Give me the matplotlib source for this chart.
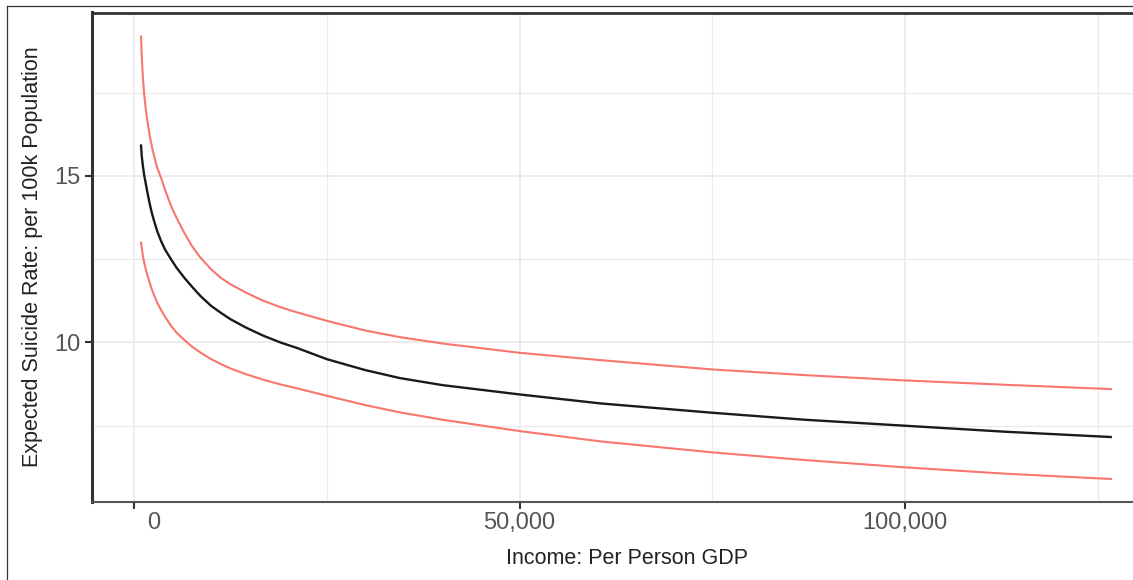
import numpy as np
import matplotlib
matplotlib.use('Agg')
import matplotlib.pyplot as plt
from matplotlib.lines import Line2D
from matplotlib.ticker import FuncFormatter, MultipleLocator
from matplotlib.transforms import ScaledTranslation

plt.rcParams['font.family'] = ['Liberation Sans', 'DejaVu Sans']

# 読み取った値 (GDP per person, 予測値と上下の区間)
gdp = [900, 1000, 1150, 1300, 1500, 1700, 2000, 2300, 2600, 3000,
       3500, 4000, 4800, 5500, 6500, 7500, 8600, 10000, 11200, 12500,
       14500, 16800, 19000, 21200, 25000, 30000, 34500, 40000, 50000, 60500,
       75000, 87000, 100000, 113000, 126800]
rate_fit = [15.95, 15.6, 15.3, 15.05, 14.8, 14.55, 14.2, 13.9, 13.65, 13.35,
            13.05, 12.8, 12.5, 12.25, 11.95, 11.68, 11.4, 11.1, 10.9, 10.7,
            10.45, 10.2, 10.0, 9.83, 9.5, 9.17, 8.93, 8.72, 8.44, 8.17,
            7.89, 7.68, 7.5, 7.32, 7.16]
rate_upper = [19.22, 18.6, 17.95, 17.5, 17.05, 16.7, 16.25, 15.9, 15.6, 15.25,
              14.95, 14.6, 14.1, 13.75, 13.3, 12.9, 12.55, 12.2, 11.95, 11.75,
              11.5, 11.25, 11.06, 10.9, 10.65, 10.36, 10.16, 9.97, 9.69, 9.47,
              9.19, 9.02, 8.86, 8.73, 8.60]
rate_lower = [13.03, 12.85, 12.6, 12.42, 12.22, 12.05, 11.82, 11.6, 11.42, 11.2,
              10.98, 10.78, 10.5, 10.3, 10.08, 9.88, 9.7, 9.5, 9.36, 9.22,
              9.05, 8.88, 8.74, 8.62, 8.40, 8.12, 7.9, 7.68, 7.34, 7.03,
              6.70, 6.47, 6.25, 6.06, 5.90]

x_ticks = [0, 50000, 100000]
y_ticks = [10, 15]

W, H = 1133, 580
fig = plt.figure(figsize=(W / 100, H / 100), dpi=100, facecolor='white')

# 右側は切れているので軸を図の外まで伸ばす
left, right, bottom, top = 92, 1162, 502, 12.5
ax = fig.add_axes([left / W, 1 - bottom / H, (right - left) / W, (bottom - top) / H])

ax.plot(gdp, rate_upper, color='#F8766D', lw=1.5, solid_capstyle='butt', zorder=3)
ax.plot(gdp, rate_lower, color='#F8766D', lw=1.5, solid_capstyle='butt', zorder=3)
ax.plot(gdp, rate_fit, color='#1a1a1a', lw=1.7, solid_capstyle='butt', zorder=4)

ax.set_xlim(-5450, 133300)
ax.set_ylim(5.21, 19.91)

ax.set_xticks(x_ticks)
ax.set_yticks(y_ticks)
ax.xaxis.set_minor_locator(MultipleLocator(25000))
ax.yaxis.set_minor_locator(MultipleLocator(2.5))
ax.xaxis.set_major_formatter(FuncFormatter(lambda v, p: f'{int(v):,}'))

ax.grid(which='major', color='#ebebeb', lw=1.3, zorder=0)
ax.grid(which='minor', color='#ebebeb', lw=0.9, zorder=0)
ax.set_axisbelow(True)

ax.tick_params(which='major', length=5, width=1.5, color='#333333',
               labelcolor='#555555', labelsize=17)
ax.tick_params(axis='x', pad=2)
ax.tick_params(axis='y', pad=3.5)
ax.tick_params(which='minor', length=0)

# "0" のラベルは元図で右にずれている
lab0 = ax.xaxis.get_major_ticks()[0].label1
lab0.set_transform(lab0.get_transform() + ScaledTranslation(0.2, 0, fig.dpi_scale_trans))

ax.spines['right'].set_visible(False)
ax.spines['left'].set_linewidth(2.2)
ax.spines['top'].set_linewidth(2.0)
ax.spines['bottom'].set_linewidth(1.5)
ax.spines['left'].set_color('#333333')
ax.spines['top'].set_color('#333333')
ax.spines['bottom'].set_color('#555555')

fig.text(627 / W, 1 - 564 / H, 'Income: Per Person GDP', ha='center', va='baseline',
         fontsize=15.5, color='#222222')
fig.text(33 / W, 1 - 257 / H, 'Expected Suicide Rate: per 100k Population',
         rotation=90, ha='center', va='center', fontsize=15.5, color='#222222')

# スクリーンショットの外枠
fig.add_artist(Line2D([7 / W, 1.0], [1 - 6 / H, 1 - 6 / H], transform=fig.transFigure,
                      color='#333333', lw=0.9))
fig.add_artist(Line2D([7 / W, 7 / W], [0, 1 - 6 / H], transform=fig.transFigure,
                      color='#333333', lw=0.9))

fig.savefig('out.png', dpi=100, facecolor='white')
